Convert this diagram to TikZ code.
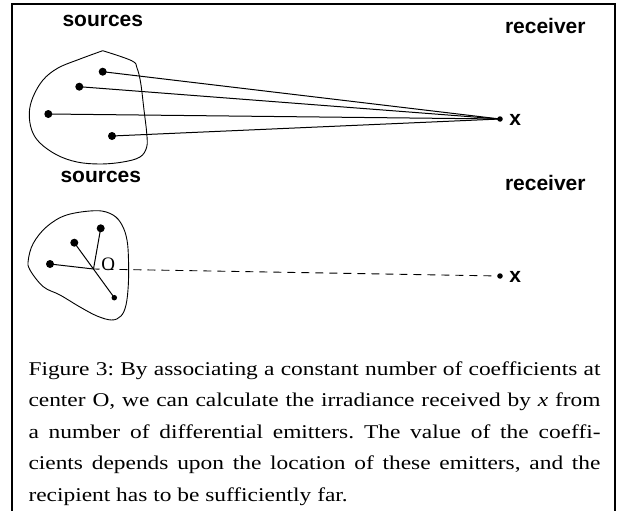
\documentclass[tikz,border=0pt]{standalone}
\usepackage{fontspec}
\setmainfont{Liberation Serif}
\newfontfamily\labfont{Liberation Sans}
\newfontfamily\capfont{Liberation Serif}[FakeStretch=1.2]
\begin{document}
\begin{tikzpicture}[x=1pt,y=-1pt,
  lbl/.style={font=\labfont\bfseries\fontsize{21}{21}\selectfont, inner sep=0, anchor=base},
  dotbig/.style={circle,fill,inner sep=0,minimum size=8pt},
  dotsmall/.style={circle,fill,inner sep=0,minimum size=5.5pt},
  ray/.style={line width=1pt},
  blob/.style={line width=0.9pt}]
\useasboundingbox (0,0) rectangle (624,511);
% frame
\draw[line width=1.1pt] (12,511) -- (12,4) -- (615,4) -- (615,511);

% ---- top panel
\node[lbl] (src1) at (102.8,26.7) {sources};
\node[lbl] (rcv1) at (545.3,33.3) {receiver};
\draw[blob] plot[smooth, tension=0.6] coordinates {
 (102.7,50.7) (131.7,60.7) (137,68) (140.7,83) (144,110) (146.7,133) (146.7,147)
 (140,157) (123,162) (100,164) (77,162) (57,155) (40,143) (31.7,130) (29.3,113)
 (33,97) (43,80) (58,68) (80,59) (102.7,50.7)};
\node[dotbig] (a1) at (102.7,71.7) {};
\node[dotbig] (a2) at (79.3,86.7) {};
\node[dotbig] (a3) at (48.3,114) {};
\node[dotbig] (a4) at (112,136) {};
\node[dotsmall] (r1) at (500,119) {};
\node[lbl] (x1) at (515.3,125) {x};
\foreach \n in {a1,a2,a3,a4} \draw[ray] (\n.center) -- (r1.center);

% ---- bottom panel
\node[lbl] (src2) at (100.8,182.7) {sources};
\node[lbl] (rcv2) at (545.3,190) {receiver};
\draw[blob] plot[smooth cycle, tension=0.6] coordinates {
 (66.7,215) (96.7,210.7) (113,215) (122,225) (127,240) (128.5,260) (128.3,285)
 (126,305) (121,316) (111.7,320) (97,316) (80,307) (60,295) (43.3,286.7)
 (30,270) (28.3,260) (33.3,243.3) (46.7,226.7)};
\coordinate (O) at (93.5,269);
\node[dotbig] (b1) at (50,264) {};
\node[dotbig] (b2) at (74.3,242.7) {};
\node[dotbig] (b3) at (100.7,228.3) {};
\node[dotsmall] (b4) at (114.3,297.7) {};
\draw[ray] (b1.center) -- (O);
\draw[ray] (b3.center) -- (O);
\draw[ray] (b2.center) -- (b4.center);
\node[font=\fontsize{19}{19}\selectfont, inner sep=0, anchor=base] (Olab) at (108.3,270.5) {O};
\node[dotsmall] (r2) at (500,276) {};
\node[lbl] (x2) at (515.3,282) {x};
\draw[line width=0.9pt, dash pattern=on 8pt off 6pt, dash phase=2pt] (O) -- (r2.center);

% ---- caption
\node[anchor=base west, inner sep=0] (cap) at (28.3,375) {\parbox[t]{572pt}{\capfont\fontsize{19.5}{31.5}\selectfont\frenchspacing
Figure 3: By associating a constant number of coefficients at\linebreak
center O, we can calculate the irradiance received by \textit{x} from\linebreak
a number of differential emitters. The value of the coeffi-\linebreak
cients depends upon the location of these emitters, and the\linebreak
recipient has to be sufficiently far.}};
\end{tikzpicture}
\end{document}
